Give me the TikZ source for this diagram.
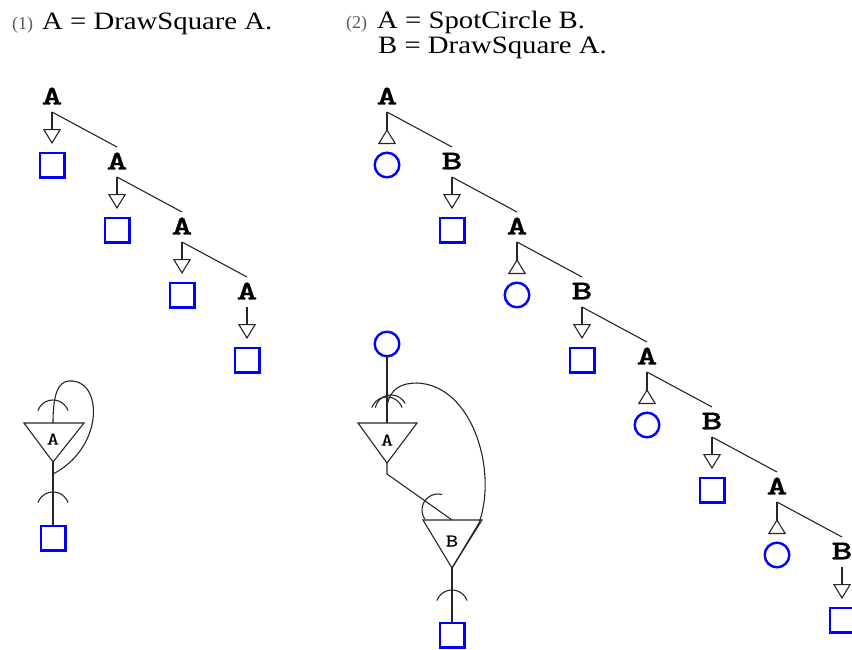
\documentclass[tikz,border=0pt]{standalone}
\usepackage{fontspec}
\setmainfont{Liberation Serif}
\newfontfamily\rulefont[FakeStretch=1.15]{Liberation Serif}
\newfontfamily\lblfont[FakeStretch=1.45,FakeBold=1.2]{lmmonolt10-bold.otf}
\newfontfamily\tlblfont[FakeStretch=1.3,FakeBold=0.4]{lmmono10-regular.otf}
\usetikzlibrary{arrows.meta,positioning,calc}

\tikzset{
  lbl/.style={font=\fontsize{27}{27}\selectfont\lblfont, inner sep=0pt},
  tlbl/.style={font=\fontsize{18}{18}\selectfont\tlblfont, inner sep=0pt},
  rule/.style={font=\fontsize{25}{25}\selectfont\rulefont, inner sep=0pt, anchor=base west},
  num/.style={font=\fontsize{18}{18}\selectfont, text=black!65, inner sep=0pt, anchor=base west},
  sq/.style={draw=blue, line width=2.4pt, minimum size=24.6pt, inner sep=0pt, outer sep=0pt},
  spot/.style={draw=blue, line width=2.4pt, circle, minimum size=24.6pt, inner sep=0pt, outer sep=0pt},
  wire/.style={draw=black!85, line width=1.1pt},
  tipdown/.style={wire, -{Triangle[open, length=15pt, width=18pt, line width=1.1pt]}},
  tipup/.style={wire, -{Triangle[open, reversed, length=15pt, width=18pt, line width=1.1pt]}},
  cap/.pic={\draw[wire] (160:16pt) arc (160:20:16pt);}
}

\begin{document}
\begin{tikzpicture}[x=1pt,y=1pt]
   \useasboundingbox (0,0) rectangle (852,-649);

   % rules
   \node[num] (n1) at (12,-29) {(1)};
   \node[rule] (r1) at (42,-29) {A = DrawSquare A.};
   \node[num] (n2) at (346,-28) {(2)};
   \node[rule] (r2) at (377,-28) {A = SpotCircle B.};
   \node[rule] (r3) at (378,-53) {B = DrawSquare A.};

   % unfolding of (1)
   \foreach \i in {0,...,3}{
     \node[lbl] (p\i) at (52+65*\i,-96-65*\i) {A};
     \node[sq] (ps\i) at (52+65*\i,-165-65*\i) {};
     \draw[tipdown] ([yshift=-16pt]p\i.center) -- ([yshift=21pt]ps\i.center);
   }
   \foreach \i [count=\j] in {0,...,2}
     \draw[wire] ([yshift=-16pt]p\i.center) -- ([yshift=14pt]p\j.center);

   % unfolding of (2)
   \foreach \i/\t/\s/\a in {0/A/spot/tipup,1/B/sq/tipdown,2/A/spot/tipup,3/B/sq/tipdown,
                            4/A/spot/tipup,5/B/sq/tipdown,6/A/spot/tipup,7/B/sq/tipdown}{
     \node[lbl] (q\i) at (387+65*\i,-96-65*\i) {\t};
     \node[\s] (qs\i) at (387+65*\i,-165-65*\i) {};
     \draw[\a] ([yshift=-16pt]q\i.center) -- ([yshift=21pt]qs\i.center);
   }
   \foreach \i [count=\j] in {0,...,6}
     \draw[wire] ([yshift=-16pt]q\i.center) -- ([yshift=14pt]q\j.center);

   % net of (1)
   \coordinate (al) at (24,-423);
   \coordinate (ar) at (84,-423);
   \coordinate (am) at (53,-423);
   \coordinate (at) at (53,-462);
   \node[tlbl] (ta) at (53,-439) {A};
   \node[sq] (sa) at (53,-538) {};
   \draw[wire] (al) -- (ar) -- (at) -- cycle;
   \draw[wire] (at) -- (sa);
   \draw[wire] (am) .. controls (53,-385) and (62,-380) .. (73,-381)
                    .. controls (103,-384) and (103,-448) .. (53,-474);
   \pic at (53,-416) {cap};
   \pic at (53,-508) {cap};

   % net of (2)
   \node[spot] (sb) at (387,-344) {};
   \coordinate (bl) at (358,-423);
   \coordinate (br) at (417,-423);
   \coordinate (bm) at (387,-423);
   \coordinate (bt) at (387,-463);
   \coordinate (bk) at (387,-474);
   \node[tlbl] (tb) at (387,-440) {A};
   \coordinate (cl) at (423,-520);
   \coordinate (cr) at (482,-520);
   \coordinate (cm) at (452,-520);
   \coordinate (ct) at (452,-568);
   \node[tlbl] (tc) at (452,-541) {B};
   \node[sq] (sc) at (452,-635) {};
   \draw[wire] (bl) -- (br) -- (bt) -- cycle;
   \draw[wire] (cl) -- (cr) -- (ct) -- cycle;
   \draw[wire] (sb) -- (bm);
   \draw[wire] (bt) -- (bk) -- (cm);
   \draw[wire] (ct) -- (sc);
   \draw[wire] (387,-406) .. controls (390,-388) and (402,-383) .. (417,-383)
                          .. controls (472,-385) and (498,-470) .. (479,-523) -- (ct);
   \pic at (387,-413) {cap};
   \pic[rotate=8] at (391,-411) {cap};
   \pic[rotate=54.7] at (438,-510) {cap};
   \pic at (452,-606) {cap};
\end{tikzpicture}
\end{document}
